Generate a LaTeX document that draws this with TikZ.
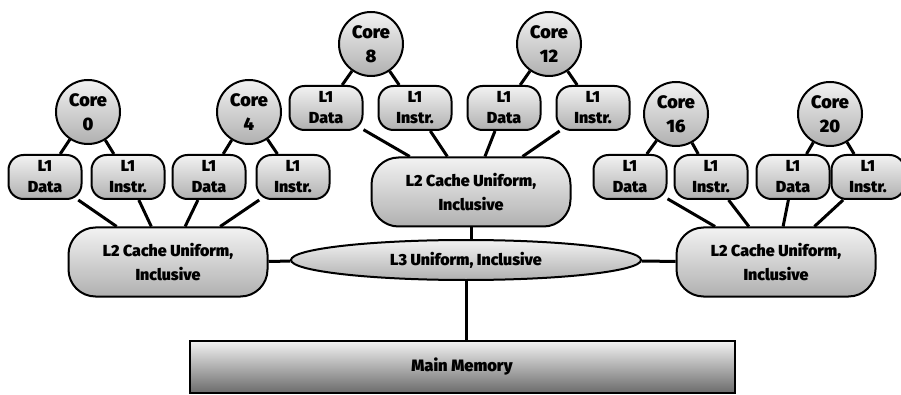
\documentclass[tikz,border=0pt]{standalone}
\usepackage{fontspec}
\setmainfont{Fira Sans}[BoldFont={Fira Sans Black}]
\usetikzlibrary{shapes.geometric,positioning}

\begin{document}
\begin{tikzpicture}[x=1pt,y=-1pt,on grid,
    box/.style={draw,line width=2pt,top color=black!5,bottom color=black!31,
      align=center,inner sep=0pt,font=\bfseries\fontsize{16}{21}\selectfont},
    core/.style={box,circle,minimum size=64pt,font=\bfseries\fontsize{18}{24}\selectfont},
    lone/.style={box,rounded corners=15pt,minimum width=73pt,minimum height=44pt},
    ltwo/.style={box,rounded corners=27pt,minimum width=199pt,minimum height=69pt,
      font=\bfseries\fontsize{16}{24}\selectfont},
    lthree/.style={box,ellipse,minimum width=350pt,minimum height=40pt,
      font=\bfseries\fontsize{16}{24}\selectfont},
    mem/.style={box,rectangle,minimum width=545pt,minimum height=52pt,
      bottom color=black!58,font=\bfseries\fontsize{16.5}{18}\selectfont},
    wire/.style={line width=3pt}]
  \useasboundingbox (0,0) rectangle (901,395);

  % shared caches and memory
  \node[lthree] (l3)                      at (466,260) {L3 Uniform, Inclusive};
  \node[ltwo]   (l2_0)                    at (168,262) {L2 Cache Uniform,\\Inclusive};
  \node[ltwo]   (l2_8)                    at (471,192) {L2 Cache Uniform,\\Inclusive};
  \node[ltwo]   (l2_16)                   at (776,262) {L2 Cache Uniform,\\Inclusive};
  \node[mem]    (mem)                     at (462,367) {Main Memory};

  % left group
  \node[lone] (d_0)  at (45,177)          {L1\\Data};
  \node[lone] (i_0)  [right=83pt of d_0]  {L1\\Instr.};
  \node[lone] (d_4)  [right=81pt of i_0]  {L1\\Data};
  \node[lone] (i_4)  [right=84pt of d_4]  {L1\\Instr.};
  \node[core] (c_0)  at (88,112)          {Core\\0};
  \node[core] (c_4)  at (249,112)         {Core\\4};

  % middle group
  \node[lone] (d_8)  at (326,108)         {L1\\Data};
  \node[lone] (i_8)  [right=89pt of d_8]  {L1\\Instr.};
  \node[lone] (d_12) [right=89pt of i_8]  {L1\\Data};
  \node[lone] (i_12) [right=89pt of d_12] {L1\\Instr.};
  \node[core] (c_8)  at (371,44)          {Core\\8};
  \node[core] (c_12) at (549,44)          {Core\\12};

  % right group
  \node[lone] (d_16) at (630,177)         {L1\\Data};
  \node[lone] (i_16) [right=81pt of d_16] {L1\\Instr.};
  \node[lone] (d_20) [right=82pt of i_16] {L1\\Data};
  \node[lone] (i_20) [right=75pt of d_20] {L1\\Instr.};
  \node[core] (c_16) at (676,114)         {Core\\16};
  \node[core] (c_20) at (830,114)         {Core\\20};

  \path[wire]
    (c_0)  edge (d_0)  (c_0)  edge (i_0)
    (c_4)  edge (d_4)  (c_4)  edge (i_4)
    (c_8)  edge (d_8)  (c_8)  edge (i_8)
    (c_12) edge (d_12) (c_12) edge (i_12)
    (c_16) edge (d_16) (c_16) edge (i_16)
    (c_20) edge (d_20) (c_20) edge (i_20)
    (d_0)  edge (l2_0)  (i_0)  edge (l2_0)
    (d_4)  edge (l2_0)  (i_4)  edge (l2_0)
    (d_8)  edge (l2_8)  (i_8)  edge (l2_8)
    (d_12) edge (l2_8)  (i_12) edge (l2_8)
    (d_16) edge (l2_16) (i_16) edge (l2_16)
    (d_20) edge (l2_16) (i_20) edge (l2_16)
    (l2_0) edge (l3)    (l2_16) edge (l3);
  \draw[wire] (l2_8) -- (l2_8 |- l3.north);
  \draw[wire] (l3) -- (l3 |- mem.north);
\end{tikzpicture}
\end{document}
